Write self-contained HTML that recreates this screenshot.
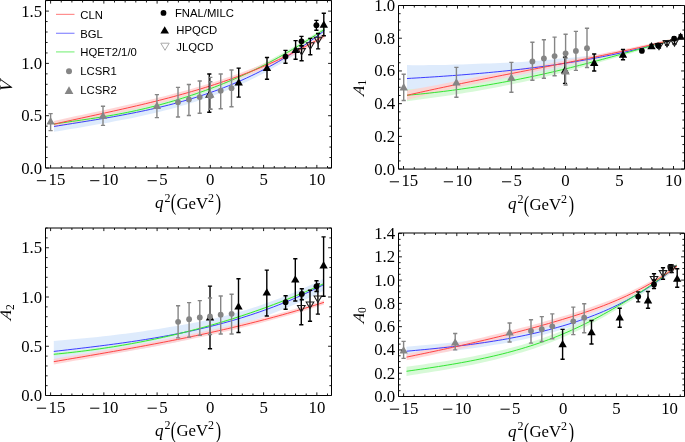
<!DOCTYPE html>
<html><head><meta charset="utf-8"><style>
html,body{margin:0;padding:0;background:#fff;}
svg{display:block;will-change:transform;}
.tl{font-family:"Liberation Serif",serif;font-size:16.8px;fill:#000;}
.xs{font-family:"Liberation Serif",serif;font-size:11px;fill:#000;}
.xl{font-family:"Liberation Serif",serif;font-size:16px;fill:#000;}
.yl{font-family:"Liberation Serif",serif;font-size:16px;fill:#000;}
.lg{font-family:"Liberation Sans",sans-serif;font-size:11.3px;fill:#000;}
</style></head><body>
<svg width="685" height="442" viewBox="0 0 685 442">
<rect width="685" height="442" fill="#fff"/>
<clipPath id="c1"><rect x="45.5" y="0.5" width="286.0" height="167.5"/></clipPath>
<g clip-path="url(#c1)">
<path d="M54.00,121.06 L59.52,120.21 L65.04,119.38 L70.56,118.54 L76.08,117.71 L81.60,116.87 L87.12,116.02 L92.64,115.16 L98.16,114.29 L103.68,113.40 L109.20,112.49 L114.72,111.56 L120.24,110.60 L125.77,109.62 L131.29,108.60 L136.81,107.54 L142.33,106.45 L147.85,105.31 L153.37,104.12 L158.89,102.89 L164.41,101.61 L169.93,100.27 L175.45,98.87 L180.97,97.41 L186.49,95.89 L192.01,94.29 L197.53,92.63 L203.05,90.89 L208.57,89.09 L214.09,87.20 L219.61,85.22 L225.13,83.16 L230.65,81.01 L236.17,78.77 L241.69,76.42 L247.21,73.98 L252.73,71.44 L258.26,68.78 L263.78,66.02 L269.30,63.15 L274.82,60.16 L280.34,57.04 L285.86,53.81 L291.38,50.45 L296.90,46.96 L302.42,43.34 L307.94,39.59 L313.46,35.69 L318.98,31.66 L324.50,27.47 L324.50,33.47 L318.98,37.75 L313.46,41.90 L307.94,45.90 L302.42,49.76 L296.90,53.49 L291.38,57.08 L285.86,60.55 L280.34,63.89 L274.82,67.11 L269.30,70.21 L263.78,73.19 L258.26,76.06 L252.73,78.82 L247.21,81.47 L241.69,84.02 L236.17,86.47 L230.65,88.82 L225.13,91.08 L219.61,93.24 L214.09,95.32 L208.57,97.32 L203.05,99.24 L197.53,101.07 L192.01,102.82 L186.49,104.51 L180.97,106.12 L175.45,107.67 L169.93,109.16 L164.41,110.59 L158.89,111.97 L153.37,113.29 L147.85,114.57 L142.33,115.79 L136.81,116.98 L131.29,118.13 L125.77,119.24 L120.24,120.32 L114.72,121.36 L109.20,122.39 L103.68,123.38 L98.16,124.36 L92.64,125.33 L87.12,126.27 L81.60,127.21 L76.08,128.14 L70.56,129.07 L65.04,130.00 L59.52,130.92 L54.00,131.86Z" fill="#d8e8fc" fill-opacity="0.85"/>
<path d="M54.00,121.47 L59.52,120.65 L65.04,119.86 L70.56,119.07 L76.08,118.28 L81.60,117.49 L87.12,116.70 L92.64,115.88 L98.16,115.04 L103.68,114.17 L109.20,113.27 L114.72,112.32 L120.24,111.33 L125.77,110.27 L131.29,109.16 L136.81,107.99 L142.33,106.75 L147.85,105.45 L153.37,104.09 L158.89,102.67 L164.41,101.18 L169.93,99.63 L175.45,98.02 L180.97,96.35 L186.49,94.61 L192.01,92.81 L197.53,90.95 L203.05,89.02 L208.57,87.03 L214.09,84.98 L219.61,82.86 L225.13,80.66 L230.65,78.40 L236.17,76.06 L241.69,73.64 L247.21,71.14 L252.73,68.56 L258.26,65.90 L263.78,63.15 L269.30,60.30 L274.82,57.37 L280.34,54.34 L285.86,51.22 L291.38,48.00 L296.90,44.71 L302.42,41.34 L307.94,37.90 L313.46,34.41 L318.98,30.86 L324.50,27.26 L324.50,31.26 L318.98,34.88 L313.46,38.45 L307.94,41.97 L302.42,45.43 L296.90,48.83 L291.38,52.15 L285.86,55.39 L280.34,58.53 L274.82,61.59 L269.30,64.55 L263.78,67.41 L258.26,70.19 L252.73,72.88 L247.21,75.48 L241.69,78.01 L236.17,80.45 L230.65,82.81 L225.13,85.10 L219.61,87.32 L214.09,89.47 L208.57,91.55 L203.05,93.56 L197.53,95.51 L192.01,97.40 L186.49,99.22 L180.97,100.98 L175.45,102.68 L169.93,104.32 L164.41,105.89 L158.89,107.40 L153.37,108.85 L147.85,110.23 L142.33,111.56 L136.81,112.82 L131.29,114.02 L125.77,115.16 L120.24,116.23 L114.72,117.25 L109.20,118.22 L103.68,119.15 L98.16,120.05 L92.64,120.91 L87.12,121.75 L81.60,122.57 L76.08,123.39 L70.56,124.19 L65.04,125.01 L59.52,125.83 L54.00,126.67Z" fill="#d0f8d0" fill-opacity="0.85"/>
<path d="M54.00,120.93 L59.52,119.71 L65.04,118.51 L70.56,117.31 L76.08,116.12 L81.60,114.93 L87.12,113.75 L92.64,112.56 L98.16,111.38 L103.68,110.18 L109.20,108.98 L114.72,107.78 L120.24,106.56 L125.77,105.32 L131.29,104.08 L136.81,102.81 L142.33,101.52 L147.85,100.21 L153.37,98.88 L158.89,97.52 L164.41,96.13 L169.93,94.71 L175.45,93.26 L180.97,91.77 L186.49,90.24 L192.01,88.67 L197.53,87.07 L203.05,85.41 L208.57,83.71 L214.09,81.96 L219.61,80.16 L225.13,78.31 L230.65,76.40 L236.17,74.44 L241.69,72.41 L247.21,70.32 L252.73,68.17 L258.26,65.95 L263.78,63.67 L269.30,61.31 L274.82,58.88 L280.34,56.37 L285.86,53.79 L291.38,51.12 L296.90,48.38 L302.42,45.55 L307.94,42.63 L313.46,39.63 L318.98,36.53 L324.50,33.34 L324.50,38.14 L318.98,41.36 L313.46,44.49 L307.94,47.53 L302.42,50.48 L296.90,53.34 L291.38,56.12 L285.86,58.81 L280.34,61.43 L274.82,63.97 L269.30,66.43 L263.78,68.82 L258.26,71.14 L252.73,73.39 L247.21,75.58 L241.69,77.70 L236.17,79.76 L230.65,81.76 L225.13,83.70 L219.61,85.58 L214.09,87.42 L208.57,89.20 L203.05,90.93 L197.53,92.62 L192.01,94.26 L186.49,95.86 L180.97,97.42 L175.45,98.94 L169.93,100.42 L164.41,101.88 L158.89,103.30 L153.37,104.69 L147.85,106.06 L142.33,107.40 L136.81,108.72 L131.29,110.02 L125.77,111.30 L120.24,112.56 L114.72,113.82 L109.20,115.06 L103.68,116.29 L98.16,117.51 L92.64,118.73 L87.12,119.95 L81.60,121.17 L76.08,122.39 L70.56,123.61 L65.04,124.84 L59.52,126.08 L54.00,127.33Z" fill="#ffd0d0" fill-opacity="0.85"/>
<polyline points="54.00,126.46 58.58,125.72 63.17,124.99 67.75,124.25 72.34,123.52 76.92,122.79 81.51,122.05 86.09,121.31 90.68,120.57 95.26,119.81 99.85,119.04 104.43,118.26 109.02,117.47 113.60,116.66 118.19,115.84 122.77,114.99 127.36,114.12 131.94,113.23 136.53,112.32 141.11,111.37 145.69,110.40 150.28,109.40 154.86,108.37 159.45,107.30 164.03,106.19 168.62,105.05 173.20,103.87 177.79,102.64 182.37,101.37 186.96,100.06 191.54,98.70 196.13,97.29 200.71,95.83 205.30,94.32 209.88,92.75 214.47,91.13 219.05,89.44 223.64,87.70 228.22,85.90 232.81,84.03 237.39,82.10 241.97,80.10 246.56,78.03 251.14,75.89 255.73,73.67 260.31,71.38 264.90,69.02 269.48,66.57 274.07,64.05 278.65,61.45 283.24,58.76 287.82,55.98 292.41,53.12 296.99,50.16 301.58,47.12 306.16,43.98 310.75,40.75 315.33,37.42 319.92,34.00 324.50,30.47" fill="none" stroke="#3c3cff" stroke-width="1.0"/>
<polyline points="54.00,124.07 58.58,123.38 63.17,122.70 67.75,122.04 72.34,121.37 76.92,120.71 81.51,120.05 86.09,119.37 90.68,118.69 95.26,117.99 99.85,117.28 104.43,116.54 109.02,115.78 113.60,114.99 118.19,114.16 122.77,113.30 127.36,112.40 131.94,111.45 136.53,110.46 141.11,109.43 145.69,108.36 150.28,107.24 154.86,106.09 159.45,104.88 164.03,103.64 168.62,102.35 173.20,101.02 177.79,99.65 182.37,98.23 186.96,96.77 191.54,95.26 196.13,93.71 200.71,92.12 205.30,90.49 209.88,88.81 214.47,87.08 219.05,85.31 223.64,83.49 228.22,81.62 232.81,79.70 237.39,77.73 241.97,75.70 246.56,73.62 251.14,71.48 255.73,69.28 260.31,67.02 264.90,64.71 269.48,62.33 274.07,59.88 278.65,57.38 283.24,54.80 287.82,52.16 292.41,49.46 296.99,46.71 301.58,43.91 306.16,41.05 310.75,38.16 315.33,35.23 319.92,32.26 324.50,29.26" fill="none" stroke="#33e633" stroke-width="1.0"/>
<polyline points="54.00,124.13 58.58,123.11 63.17,122.09 67.75,121.08 72.34,120.07 76.92,119.07 81.51,118.07 86.09,117.07 90.68,116.08 95.26,115.08 99.85,114.08 104.43,113.07 109.02,112.06 113.60,111.05 118.19,110.02 122.77,108.99 127.36,107.95 131.94,106.90 136.53,105.83 141.11,104.75 145.69,103.65 150.28,102.54 154.86,101.42 159.45,100.27 164.03,99.10 168.62,97.91 173.20,96.70 177.79,95.46 182.37,94.20 186.96,92.92 191.54,91.60 196.13,90.26 200.71,88.88 205.30,87.48 209.88,86.04 214.47,84.57 219.05,83.06 223.64,81.52 228.22,79.93 232.81,78.31 237.39,76.65 241.97,74.95 246.56,73.20 251.14,71.41 255.73,69.58 260.31,67.70 264.90,65.77 269.48,63.79 274.07,61.76 278.65,59.68 283.24,57.54 287.82,55.36 292.41,53.11 296.99,50.81 301.58,48.45 306.16,46.03 310.75,43.56 315.33,41.01 319.92,38.41 324.50,35.74" fill="none" stroke="#ff4444" stroke-width="1.0"/>
<path d="M50.60,113.60V130.60M48.50,113.60H52.70M48.50,130.60H52.70" stroke="#858585" stroke-width="1.4" fill="none"/><path d="M50.60,117.12L54.80,124.42L46.40,124.42Z" fill="#858585"/>
<path d="M103.00,106.30V125.40M100.90,106.30H105.10M100.90,125.40H105.10" stroke="#858585" stroke-width="1.4" fill="none"/><path d="M103.00,111.42L107.20,118.72L98.80,118.72Z" fill="#858585"/>
<path d="M156.90,94.60V117.60M154.80,94.60H159.00M154.80,117.60H159.00" stroke="#858585" stroke-width="1.4" fill="none"/><path d="M156.90,101.62L161.10,108.92L152.70,108.92Z" fill="#858585"/>
<path d="M178.00,87.40V117.00M175.90,87.40H180.10M175.90,117.00H180.10" stroke="#858585" stroke-width="1.4" fill="none"/><circle cx="178.00" cy="102.20" r="2.9" fill="#858585"/>
<path d="M188.90,84.50V115.50M186.80,84.50H191.00M186.80,115.50H191.00" stroke="#858585" stroke-width="1.4" fill="none"/><circle cx="188.90" cy="99.50" r="2.9" fill="#858585"/>
<path d="M199.70,81.00V113.30M197.60,81.00H201.80M197.60,113.30H201.80" stroke="#858585" stroke-width="1.4" fill="none"/><circle cx="199.70" cy="97.10" r="2.9" fill="#858585"/>
<path d="M209.30,74.00V112.30M207.20,74.00H211.40M207.20,112.30H211.40" stroke="#000" stroke-width="1.4" fill="none"/><path d="M209.30,90.42L213.50,97.72L205.10,97.72Z" fill="#000"/>
<path d="M210.30,77.40V109.20M208.20,77.40H212.40M208.20,109.20H212.40" stroke="#858585" stroke-width="1.4" fill="none"/><circle cx="210.30" cy="96.00" r="2.9" fill="#858585"/>
<path d="M210.30,81.80V109.20M208.20,81.80H212.40M208.20,109.20H212.40" stroke="#858585" stroke-width="1.4" fill="none"/><path d="M210.30,90.22L214.50,97.52L206.10,97.52Z" fill="#858585"/>
<path d="M220.70,74.00V108.80M218.60,74.00H222.80M218.60,108.80H222.80" stroke="#858585" stroke-width="1.4" fill="none"/><circle cx="220.70" cy="90.70" r="2.9" fill="#858585"/>
<path d="M231.50,70.00V106.80M229.40,70.00H233.60M229.40,106.80H233.60" stroke="#858585" stroke-width="1.4" fill="none"/><circle cx="231.50" cy="88.20" r="2.9" fill="#858585"/>
<path d="M238.70,68.10V97.10M236.60,68.10H240.80M236.60,97.10H240.80" stroke="#000" stroke-width="1.4" fill="none"/><path d="M238.70,78.22L242.90,85.52L234.50,85.52Z" fill="#000"/>
<path d="M267.00,57.50V79.30M264.90,57.50H269.10M264.90,79.30H269.10" stroke="#000" stroke-width="1.4" fill="none"/><path d="M267.00,63.82L271.20,71.12L262.80,71.12Z" fill="#000"/>
<path d="M285.50,50.40V63.20M283.40,50.40H287.60M283.40,63.20H287.60" stroke="#000" stroke-width="1.4" fill="none"/><circle cx="285.50" cy="56.60" r="2.9" fill="#000"/>
<path d="M295.60,40.60V59.30M293.50,40.60H297.70M293.50,59.30H297.70" stroke="#000" stroke-width="1.4" fill="none"/><path d="M295.60,45.82L299.80,53.12L291.40,53.12Z" fill="#000"/>
<path d="M301.60,46.00V60.80M299.50,46.00H303.70M299.50,60.80H303.70" stroke="#000" stroke-width="1.4" fill="none"/><path d="M301.60,55.04L305.40,48.64L297.80,48.64Z" fill="none" stroke="#1a1a1a" stroke-width="1.05"/>
<path d="M301.50,36.40V45.60M299.40,36.40H303.60M299.40,45.60H303.60" stroke="#000" stroke-width="1.4" fill="none"/><circle cx="301.50" cy="41.30" r="2.9" fill="#000"/>
<path d="M310.30,38.40V54.70M308.20,38.40H312.40M308.20,54.70H312.40" stroke="#000" stroke-width="1.4" fill="none"/><path d="M310.30,49.24L314.10,42.84L306.50,42.84Z" fill="none" stroke="#1a1a1a" stroke-width="1.05"/>
<path d="M318.10,33.50V48.90M316.00,33.50H320.20M316.00,48.90H320.20" stroke="#000" stroke-width="1.4" fill="none"/><path d="M318.10,43.64L321.90,37.24L314.30,37.24Z" fill="none" stroke="#1a1a1a" stroke-width="1.05"/>
<path d="M316.40,20.40V30.30M314.30,20.40H318.50M314.30,30.30H318.50" stroke="#000" stroke-width="1.4" fill="none"/><circle cx="316.40" cy="25.20" r="2.9" fill="#000"/>
<path d="M323.80,13.30V35.80M321.70,13.30H325.90M321.70,35.80H325.90" stroke="#000" stroke-width="1.4" fill="none"/><path d="M323.80,20.42L328.00,27.72L319.60,27.72Z" fill="#000"/>
</g>
<path d="M45.5,0.5H331.5V168.0H45.5Z" fill="none" stroke="#000" stroke-width="1"/>
<path d="M50.60,168.0v-3.1M50.60,0.5v3.1M61.25,168.0v-2.0M61.25,0.5v2.0M71.90,168.0v-2.0M71.90,0.5v2.0M82.55,168.0v-2.0M82.55,0.5v2.0M93.20,168.0v-2.0M93.20,0.5v2.0M103.85,168.0v-3.1M103.85,0.5v3.1M114.50,168.0v-2.0M114.50,0.5v2.0M125.15,168.0v-2.0M125.15,0.5v2.0M135.80,168.0v-2.0M135.80,0.5v2.0M146.45,168.0v-2.0M146.45,0.5v2.0M157.10,168.0v-3.1M157.10,0.5v3.1M167.75,168.0v-2.0M167.75,0.5v2.0M178.40,168.0v-2.0M178.40,0.5v2.0M189.05,168.0v-2.0M189.05,0.5v2.0M199.70,168.0v-2.0M199.70,0.5v2.0M210.35,168.0v-3.1M210.35,0.5v3.1M221.00,168.0v-2.0M221.00,0.5v2.0M231.65,168.0v-2.0M231.65,0.5v2.0M242.30,168.0v-2.0M242.30,0.5v2.0M252.95,168.0v-2.0M252.95,0.5v2.0M263.60,168.0v-3.1M263.60,0.5v3.1M274.25,168.0v-2.0M274.25,0.5v2.0M284.90,168.0v-2.0M284.90,0.5v2.0M295.55,168.0v-2.0M295.55,0.5v2.0M306.20,168.0v-2.0M306.20,0.5v2.0M316.85,168.0v-3.1M316.85,0.5v3.1M327.50,168.0v-2.0M327.50,0.5v2.0M45.5,168.00h3.4M331.5,168.00h-3.4M45.5,157.54h2.1M331.5,157.54h-2.1M45.5,147.08h2.1M331.5,147.08h-2.1M45.5,136.62h2.1M331.5,136.62h-2.1M45.5,126.16h2.1M331.5,126.16h-2.1M45.5,115.70h3.4M331.5,115.70h-3.4M45.5,105.24h2.1M331.5,105.24h-2.1M45.5,94.78h2.1M331.5,94.78h-2.1M45.5,84.32h2.1M331.5,84.32h-2.1M45.5,73.86h2.1M331.5,73.86h-2.1M45.5,63.40h3.4M331.5,63.40h-3.4M45.5,52.94h2.1M331.5,52.94h-2.1M45.5,42.48h2.1M331.5,42.48h-2.1M45.5,32.02h2.1M331.5,32.02h-2.1M45.5,21.56h2.1M331.5,21.56h-2.1M45.5,11.10h3.4M331.5,11.10h-3.4M45.5,0.64h2.1M331.5,0.64h-2.1" stroke="#111" stroke-width="0.95" fill="none"/>
<text x="42.2" y="173.5" class="tl" text-anchor="end">0.0</text>
<text x="42.2" y="121.2" class="tl" text-anchor="end">0.5</text>
<text x="42.2" y="68.9" class="tl" text-anchor="end">1.0</text>
<text x="42.2" y="16.6" class="tl" text-anchor="end">1.5</text>
<path d="M36.90,180.70h9.2" stroke="#000" stroke-width="1.0"/>
<text x="48.5" y="185.0" class="tl">15</text>
<path d="M90.15,180.70h9.2" stroke="#000" stroke-width="1.0"/>
<text x="101.7" y="185.0" class="tl">10</text>
<path d="M147.60,180.70h9.2" stroke="#000" stroke-width="1.0"/>
<text x="159.2" y="185.0" class="tl">5</text>
<text x="210.3" y="185.0" class="tl" text-anchor="middle">0</text>
<text x="263.6" y="185.0" class="tl" text-anchor="middle">5</text>
<text x="316.9" y="185.0" class="tl" text-anchor="middle">10</text>
<text x="154.9" y="208.1" class="xl" font-style="italic" style="font-size:17px">q</text>
<text x="164.6" y="201.8" class="xs" style="font-size:12px">2</text>
<text transform="translate(170.8,210.4) scale(1,1.4)" class="xl">(</text>
<text x="176.4" y="208.7" class="xl" style="font-size:16.8px">GeV</text>
<text x="208.1" y="201.8" class="xs" style="font-size:12px">2</text>
<text transform="translate(215.8,210.4) scale(1,1.4)" class="xl">)</text>
<text transform="translate(11.8,86.8) rotate(-90) skewX(-8)" class="yl" style="font-size:18px" text-anchor="middle"><tspan font-style="italic">V</tspan></text>
<clipPath id="c2"><rect x="398.5" y="5.5" width="286.0" height="163.6"/></clipPath>
<g clip-path="url(#c2)">
<path d="M407.00,65.12 L412.47,65.13 L417.94,65.14 L423.41,65.14 L428.88,65.12 L434.35,65.10 L439.82,65.07 L445.29,64.93 L450.76,64.77 L456.22,64.60 L461.69,64.41 L467.16,64.21 L472.63,63.99 L478.10,63.75 L483.57,63.56 L489.04,63.39 L494.51,63.20 L499.98,62.98 L505.45,62.75 L510.92,62.49 L516.39,62.22 L521.86,61.89 L527.33,61.50 L532.80,61.08 L538.27,60.64 L543.73,60.18 L549.20,59.68 L554.67,59.16 L560.14,58.62 L565.61,58.16 L571.08,57.68 L576.55,57.16 L582.02,56.61 L587.49,56.04 L592.96,55.43 L598.43,54.78 L603.90,53.93 L609.37,52.97 L614.84,51.98 L620.31,50.94 L625.78,49.88 L631.24,48.77 L636.71,47.63 L642.18,46.41 L647.65,45.11 L653.12,43.77 L658.59,42.39 L664.06,40.97 L669.53,39.50 L675.00,37.99 L675.00,40.39 L669.53,42.03 L664.06,43.62 L658.59,45.17 L653.12,46.67 L647.65,48.14 L642.18,49.56 L636.71,50.99 L631.24,52.41 L625.78,53.79 L620.31,55.13 L614.84,56.43 L609.37,57.70 L603.90,58.93 L598.43,60.20 L592.96,61.61 L587.49,62.99 L582.02,64.33 L576.55,65.64 L571.08,66.92 L565.61,68.17 L560.14,69.40 L554.67,70.47 L549.20,71.51 L543.73,72.52 L538.27,73.51 L532.80,74.47 L527.33,75.40 L521.86,76.32 L516.39,77.25 L510.92,78.18 L505.45,79.10 L499.98,79.99 L494.51,80.86 L489.04,81.71 L483.57,82.54 L478.10,83.32 L472.63,84.02 L467.16,84.70 L461.69,85.36 L456.22,86.02 L450.76,86.65 L445.29,87.28 L439.82,87.89 L434.35,88.59 L428.88,89.27 L423.41,89.95 L417.94,90.61 L412.47,91.27 L407.00,91.92Z" fill="#d8e8fc" fill-opacity="0.85"/>
<path d="M407.00,89.26 L412.47,88.98 L417.94,88.66 L423.41,88.31 L428.88,87.92 L434.35,87.51 L439.82,87.07 L445.29,86.48 L450.76,85.86 L456.22,85.21 L461.69,84.53 L467.16,83.81 L472.63,83.07 L478.10,82.30 L483.57,81.49 L489.04,80.66 L494.51,79.80 L499.98,78.91 L505.45,77.99 L510.92,77.04 L516.39,76.06 L521.86,75.05 L527.33,74.03 L532.80,72.97 L538.27,71.89 L543.73,70.78 L549.20,69.64 L554.67,68.47 L560.14,67.27 L565.61,66.05 L571.08,64.80 L576.55,63.52 L582.02,62.22 L587.49,60.90 L592.96,59.56 L598.43,58.20 L603.90,56.81 L609.37,55.39 L614.84,53.97 L620.31,52.53 L625.78,51.08 L631.24,49.63 L636.71,48.17 L642.18,46.70 L647.65,45.23 L653.12,43.76 L658.59,42.29 L664.06,40.82 L669.53,39.36 L675.00,37.90 L675.00,40.30 L669.53,41.91 L664.06,43.52 L658.59,45.13 L653.12,46.74 L647.65,48.36 L642.18,49.97 L636.71,51.59 L631.24,53.19 L625.78,54.80 L620.31,56.39 L614.84,57.97 L609.37,59.54 L603.90,61.10 L598.43,62.65 L592.96,64.20 L587.49,65.74 L582.02,67.25 L576.55,68.74 L571.08,70.21 L565.61,71.65 L560.14,73.07 L554.67,74.46 L549.20,75.82 L543.73,77.15 L538.27,78.45 L532.80,79.73 L527.33,80.97 L521.86,82.19 L516.39,83.36 L510.92,84.51 L505.45,85.62 L499.98,86.71 L494.51,87.77 L489.04,88.79 L483.57,89.79 L478.10,90.75 L472.63,91.69 L467.16,92.60 L461.69,93.47 L456.22,94.32 L450.76,95.14 L445.29,95.92 L439.82,96.68 L434.35,97.52 L428.88,98.33 L423.41,99.11 L417.94,99.86 L412.47,100.58 L407.00,101.26Z" fill="#d0f8d0" fill-opacity="0.85"/>
<path d="M407.00,90.59 L412.47,89.52 L417.94,88.48 L423.41,87.45 L428.88,86.43 L434.35,85.43 L439.82,84.44 L445.29,83.32 L450.76,82.22 L456.22,81.12 L461.69,80.03 L467.16,78.95 L472.63,77.88 L478.10,76.82 L483.57,75.76 L489.04,74.72 L494.51,73.67 L499.98,72.63 L505.45,71.60 L510.92,70.56 L516.39,69.53 L521.86,68.52 L527.33,67.52 L532.80,66.52 L538.27,65.52 L543.73,64.51 L549.20,63.51 L554.67,62.50 L560.14,61.49 L565.61,60.48 L571.08,59.46 L576.55,58.44 L582.02,57.41 L587.49,56.37 L592.96,55.32 L598.43,54.27 L603.90,53.19 L609.37,52.11 L614.84,51.01 L620.31,49.91 L625.78,48.79 L631.24,47.66 L636.71,46.51 L642.18,45.35 L647.65,44.17 L653.12,42.98 L658.59,41.77 L664.06,40.54 L669.53,39.30 L675.00,38.03 L675.00,40.43 L669.53,41.81 L664.06,43.18 L658.59,44.52 L653.12,45.85 L647.65,47.15 L642.18,48.45 L636.71,49.73 L631.24,50.99 L625.78,52.24 L620.31,53.47 L614.84,54.70 L609.37,55.91 L603.90,57.11 L598.43,58.31 L592.96,59.50 L587.49,60.68 L582.02,61.85 L576.55,63.02 L571.08,64.18 L565.61,65.34 L560.14,66.49 L554.67,67.64 L549.20,68.78 L543.73,69.92 L538.27,71.06 L532.80,72.20 L527.33,73.33 L521.86,74.47 L516.39,75.59 L510.92,76.70 L505.45,77.81 L499.98,78.93 L494.51,80.05 L489.04,81.18 L483.57,82.31 L478.10,83.45 L472.63,84.59 L467.16,85.75 L461.69,86.91 L456.22,88.08 L450.76,89.25 L445.29,90.44 L439.82,91.65 L434.35,93.01 L428.88,94.37 L423.41,95.75 L417.94,97.15 L412.47,98.56 L407.00,99.99Z" fill="#ffd0d0" fill-opacity="0.85"/>
<polyline points="407.00,78.52 411.54,78.25 416.08,77.99 420.63,77.71 425.17,77.43 429.71,77.15 434.25,76.85 438.80,76.55 443.34,76.24 447.88,75.92 452.42,75.59 456.97,75.25 461.51,74.90 466.05,74.54 470.59,74.17 475.14,73.79 479.68,73.40 484.22,72.99 488.76,72.57 493.31,72.14 497.85,71.70 502.39,71.24 506.93,70.77 511.47,70.28 516.02,69.77 520.56,69.26 525.10,68.72 529.64,68.17 534.19,67.60 538.73,67.02 543.27,66.41 547.81,65.79 552.36,65.15 556.90,64.49 561.44,63.81 565.98,63.11 570.53,62.39 575.07,61.65 579.61,60.89 584.15,60.10 588.69,59.30 593.24,58.47 597.78,57.62 602.32,56.74 606.86,55.84 611.41,54.92 615.95,53.97 620.49,53.00 625.03,52.00 629.58,50.97 634.12,49.92 638.66,48.84 643.20,47.74 647.75,46.60 652.29,45.44 656.83,44.25 661.37,43.03 665.92,41.78 670.46,40.50 675.00,39.19" fill="none" stroke="#3c3cff" stroke-width="1.0"/>
<polyline points="407.00,95.26 411.54,94.86 416.08,94.44 420.63,93.99 425.17,93.53 429.71,93.04 434.25,92.53 438.80,92.00 443.34,91.44 447.88,90.87 452.42,90.28 456.97,89.66 461.51,89.03 466.05,88.37 470.59,87.69 475.14,86.99 479.68,86.27 484.22,85.53 488.76,84.77 493.31,83.99 497.85,83.19 502.39,82.37 506.93,81.53 511.47,80.67 516.02,79.78 520.56,78.88 525.10,77.96 529.64,77.02 534.19,76.05 538.73,75.07 543.27,74.07 547.81,73.05 552.36,72.00 556.90,70.94 561.44,69.86 565.98,68.76 570.53,67.64 575.07,66.51 579.61,65.35 584.15,64.19 588.69,63.00 593.24,61.81 597.78,60.60 602.32,59.38 606.86,58.15 611.41,56.91 615.95,55.66 620.49,54.41 625.03,53.15 629.58,51.88 634.12,50.61 638.66,49.33 643.20,48.05 647.75,46.77 652.29,45.49 656.83,44.21 661.37,42.93 665.92,41.65 670.46,40.37 675.00,39.10" fill="none" stroke="#33e633" stroke-width="1.0"/>
<polyline points="407.00,95.29 411.54,94.25 416.08,93.23 420.63,92.22 425.17,91.21 429.71,90.22 434.25,89.24 438.80,88.26 443.34,87.30 447.88,86.34 452.42,85.39 456.97,84.44 461.51,83.51 466.05,82.58 470.59,81.65 475.14,80.73 479.68,79.82 484.22,78.91 488.76,78.00 493.31,77.10 497.85,76.20 502.39,75.31 506.93,74.41 511.47,73.52 516.02,72.63 520.56,71.75 525.10,70.86 529.64,69.97 534.19,69.08 538.73,68.20 543.27,67.31 547.81,66.42 552.36,65.53 556.90,64.63 561.44,63.74 565.98,62.84 570.53,61.93 575.07,61.03 579.61,60.12 584.15,59.20 588.69,58.28 593.24,57.35 597.78,56.42 602.32,55.48 606.86,54.53 611.41,53.58 615.95,52.62 620.49,51.65 625.03,50.67 629.58,49.69 634.12,48.69 638.66,47.68 643.20,46.67 647.75,45.64 652.29,44.60 656.83,43.55 661.37,42.49 665.92,41.42 670.46,40.33 675.00,39.23" fill="none" stroke="#ff4444" stroke-width="1.0"/>
<path d="M403.70,74.20V100.50M401.60,74.20H405.80M401.60,100.50H405.80" stroke="#858585" stroke-width="1.4" fill="none"/><path d="M403.70,83.12L407.90,90.42L399.50,90.42Z" fill="#858585"/>
<path d="M456.40,67.40V97.30M454.30,67.40H458.50M454.30,97.30H458.50" stroke="#858585" stroke-width="1.4" fill="none"/><path d="M456.40,78.22L460.60,85.52L452.20,85.52Z" fill="#858585"/>
<path d="M511.40,62.40V92.30M509.30,62.40H513.50M509.30,92.30H513.50" stroke="#858585" stroke-width="1.4" fill="none"/><path d="M511.40,73.42L515.60,80.72L507.20,80.72Z" fill="#858585"/>
<path d="M532.40,42.20V80.20M530.30,42.20H534.50M530.30,80.20H534.50" stroke="#858585" stroke-width="1.4" fill="none"/><circle cx="532.40" cy="61.50" r="2.9" fill="#858585"/>
<path d="M543.90,39.80V78.30M541.80,39.80H546.00M541.80,78.30H546.00" stroke="#858585" stroke-width="1.4" fill="none"/><circle cx="543.90" cy="58.50" r="2.9" fill="#858585"/>
<path d="M554.60,37.10V75.80M552.50,37.10H556.70M552.50,75.80H556.70" stroke="#858585" stroke-width="1.4" fill="none"/><circle cx="554.60" cy="56.10" r="2.9" fill="#858585"/>
<path d="M565.60,34.30V72.50M563.50,34.30H567.70M563.50,72.50H567.70" stroke="#858585" stroke-width="1.4" fill="none"/><circle cx="565.60" cy="53.30" r="2.9" fill="#858585"/>
<path d="M565.00,57.20V83.40M562.90,57.20H567.10M562.90,83.40H567.10" stroke="#000" stroke-width="1.4" fill="none"/><path d="M565.00,66.12L569.20,73.42L560.80,73.42Z" fill="#000"/>
<path d="M565.60,58.00V85.00M563.50,58.00H567.70M563.50,85.00H567.70" stroke="#858585" stroke-width="1.4" fill="none"/><path d="M565.60,67.12L569.80,74.42L561.40,74.42Z" fill="#858585"/>
<path d="M575.90,31.40V70.40M573.80,31.40H578.00M573.80,70.40H578.00" stroke="#858585" stroke-width="1.4" fill="none"/><circle cx="575.90" cy="50.90" r="2.9" fill="#858585"/>
<path d="M587.00,28.20V67.50M584.90,28.20H589.10M584.90,67.50H589.10" stroke="#858585" stroke-width="1.4" fill="none"/><circle cx="587.00" cy="48.20" r="2.9" fill="#858585"/>
<path d="M594.20,54.00V71.00M592.10,54.00H596.30M592.10,71.00H596.30" stroke="#000" stroke-width="1.4" fill="none"/><path d="M594.20,58.62L598.40,65.92L590.00,65.92Z" fill="#000"/>
<path d="M623.00,49.50V59.70M620.90,49.50H625.10M620.90,59.70H625.10" stroke="#000" stroke-width="1.4" fill="none"/><path d="M623.00,50.42L627.20,57.72L618.80,57.72Z" fill="#000"/>
<path d="M641.90,49.00V52.60M639.80,49.00H644.00M639.80,52.60H644.00" stroke="#000" stroke-width="1.4" fill="none"/><circle cx="641.90" cy="50.80" r="2.9" fill="#000"/>
<path d="M651.50,44.50V48.00M649.40,44.50H653.60M649.40,48.00H653.60" stroke="#000" stroke-width="1.4" fill="none"/><path d="M651.50,41.92L655.70,49.22L647.30,49.22Z" fill="#000"/>
<path d="M659.00,44.00V48.00M656.90,44.00H661.10M656.90,48.00H661.10" stroke="#000" stroke-width="1.4" fill="none"/><path d="M659.00,49.84L662.80,43.44L655.20,43.44Z" fill="none" stroke="#1a1a1a" stroke-width="1.05"/>
<path d="M658.10,43.60V47.20M656.00,43.60H660.20M656.00,47.20H660.20" stroke="#000" stroke-width="1.4" fill="none"/><circle cx="658.10" cy="45.40" r="2.9" fill="#000"/>
<path d="M667.00,41.50V45.00M664.90,41.50H669.10M664.90,45.00H669.10" stroke="#000" stroke-width="1.4" fill="none"/><path d="M667.00,47.04L670.80,40.64L663.20,40.64Z" fill="none" stroke="#1a1a1a" stroke-width="1.05"/>
<path d="M674.50,40.50V44.00M672.40,40.50H676.60M672.40,44.00H676.60" stroke="#000" stroke-width="1.4" fill="none"/><path d="M674.50,46.14L678.30,39.74L670.70,39.74Z" fill="none" stroke="#1a1a1a" stroke-width="1.05"/>
<path d="M674.10,37.00V40.20M672.00,37.00H676.20M672.00,40.20H676.20" stroke="#000" stroke-width="1.4" fill="none"/><circle cx="674.10" cy="38.60" r="2.9" fill="#000"/>
<path d="M680.60,35.00V38.60M678.50,35.00H682.70M678.50,38.60H682.70" stroke="#000" stroke-width="1.4" fill="none"/><path d="M680.60,32.42L684.80,39.72L676.40,39.72Z" fill="#000"/>
</g>
<path d="M398.5,5.5H684.5V169.1H398.5Z" fill="none" stroke="#000" stroke-width="1"/>
<path d="M403.50,169.1v-3.1M403.50,5.5v3.1M414.30,169.1v-2.0M414.30,5.5v2.0M425.10,169.1v-2.0M425.10,5.5v2.0M435.90,169.1v-2.0M435.90,5.5v2.0M446.70,169.1v-2.0M446.70,5.5v2.0M457.50,169.1v-3.1M457.50,5.5v3.1M468.30,169.1v-2.0M468.30,5.5v2.0M479.10,169.1v-2.0M479.10,5.5v2.0M489.90,169.1v-2.0M489.90,5.5v2.0M500.70,169.1v-2.0M500.70,5.5v2.0M511.50,169.1v-3.1M511.50,5.5v3.1M522.30,169.1v-2.0M522.30,5.5v2.0M533.10,169.1v-2.0M533.10,5.5v2.0M543.90,169.1v-2.0M543.90,5.5v2.0M554.70,169.1v-2.0M554.70,5.5v2.0M565.50,169.1v-3.1M565.50,5.5v3.1M576.30,169.1v-2.0M576.30,5.5v2.0M587.10,169.1v-2.0M587.10,5.5v2.0M597.90,169.1v-2.0M597.90,5.5v2.0M608.70,169.1v-2.0M608.70,5.5v2.0M619.50,169.1v-3.1M619.50,5.5v3.1M630.30,169.1v-2.0M630.30,5.5v2.0M641.10,169.1v-2.0M641.10,5.5v2.0M651.90,169.1v-2.0M651.90,5.5v2.0M662.70,169.1v-2.0M662.70,5.5v2.0M673.50,169.1v-3.1M673.50,5.5v3.1M398.5,169.10h3.4M684.5,169.10h-3.4M398.5,160.92h2.1M684.5,160.92h-2.1M398.5,152.74h2.1M684.5,152.74h-2.1M398.5,144.56h2.1M684.5,144.56h-2.1M398.5,136.38h3.4M684.5,136.38h-3.4M398.5,128.20h2.1M684.5,128.20h-2.1M398.5,120.02h2.1M684.5,120.02h-2.1M398.5,111.84h2.1M684.5,111.84h-2.1M398.5,103.66h3.4M684.5,103.66h-3.4M398.5,95.48h2.1M684.5,95.48h-2.1M398.5,87.30h2.1M684.5,87.30h-2.1M398.5,79.12h2.1M684.5,79.12h-2.1M398.5,70.94h3.4M684.5,70.94h-3.4M398.5,62.76h2.1M684.5,62.76h-2.1M398.5,54.58h2.1M684.5,54.58h-2.1M398.5,46.40h2.1M684.5,46.40h-2.1M398.5,38.22h3.4M684.5,38.22h-3.4M398.5,30.04h2.1M684.5,30.04h-2.1M398.5,21.86h2.1M684.5,21.86h-2.1M398.5,13.68h2.1M684.5,13.68h-2.1M398.5,5.50h3.4M684.5,5.50h-3.4" stroke="#111" stroke-width="0.95" fill="none"/>
<text x="395.2" y="174.6" class="tl" text-anchor="end">0.0</text>
<text x="395.2" y="141.9" class="tl" text-anchor="end">0.2</text>
<text x="395.2" y="109.2" class="tl" text-anchor="end">0.4</text>
<text x="395.2" y="76.4" class="tl" text-anchor="end">0.6</text>
<text x="395.2" y="43.7" class="tl" text-anchor="end">0.8</text>
<text x="395.2" y="11.0" class="tl" text-anchor="end">1.0</text>
<path d="M389.80,181.80h9.2" stroke="#000" stroke-width="1.0"/>
<text x="401.4" y="186.1" class="tl">15</text>
<path d="M443.80,181.80h9.2" stroke="#000" stroke-width="1.0"/>
<text x="455.4" y="186.1" class="tl">10</text>
<path d="M502.00,181.80h9.2" stroke="#000" stroke-width="1.0"/>
<text x="513.6" y="186.1" class="tl">5</text>
<text x="565.5" y="186.1" class="tl" text-anchor="middle">0</text>
<text x="619.5" y="186.1" class="tl" text-anchor="middle">5</text>
<text x="673.5" y="186.1" class="tl" text-anchor="middle">10</text>
<text x="507.9" y="209.2" class="xl" font-style="italic" style="font-size:17px">q</text>
<text x="517.6" y="202.9" class="xs" style="font-size:12px">2</text>
<text transform="translate(523.8,211.5) scale(1,1.4)" class="xl">(</text>
<text x="529.4" y="209.8" class="xl" style="font-size:16.8px">GeV</text>
<text x="561.1" y="202.9" class="xs" style="font-size:12px">2</text>
<text transform="translate(568.8,211.5) scale(1,1.4)" class="xl">)</text>
<text transform="translate(363.6,96.2) rotate(-90) skewX(-12)" class="yl"><tspan font-style="italic">A</tspan></text>
<text transform="translate(366.20000000000005,85.6) rotate(-90)" class="yl" style="font-size:11.5px">1</text>
<clipPath id="c3"><rect x="45.5" y="228.0" width="286.0" height="167.5"/></clipPath>
<g clip-path="url(#c3)">
<path d="M53.80,341.03 L59.31,340.55 L64.83,340.06 L70.34,339.58 L75.86,339.08 L81.37,338.58 L86.89,338.07 L92.40,337.52 L97.91,336.92 L103.43,336.30 L108.94,335.67 L114.46,335.02 L119.97,334.35 L125.49,333.65 L131.00,332.93 L136.51,332.19 L142.03,331.42 L147.54,330.62 L153.06,329.79 L158.57,328.92 L164.09,328.02 L169.60,327.09 L175.11,326.19 L180.63,325.26 L186.14,324.28 L191.66,323.27 L197.17,322.20 L202.69,321.09 L208.20,319.93 L213.71,318.66 L219.23,317.32 L224.74,315.92 L230.26,314.46 L235.77,312.94 L241.29,311.36 L246.80,309.72 L252.31,308.00 L257.83,306.19 L263.34,304.31 L268.86,302.36 L274.37,300.34 L279.89,298.25 L285.40,296.08 L290.91,293.84 L296.43,291.51 L301.94,289.10 L307.46,286.60 L312.97,284.02 L318.49,281.36 L324.00,278.61 L324.00,290.41 L318.49,293.22 L312.97,295.95 L307.46,298.60 L301.94,301.16 L296.43,303.63 L290.91,306.03 L285.40,308.35 L279.89,310.60 L274.37,312.78 L268.86,314.88 L263.34,316.91 L257.83,318.87 L252.31,320.77 L246.80,322.62 L241.29,324.42 L235.77,326.17 L230.26,327.85 L224.74,329.47 L219.23,331.04 L213.71,332.55 L208.20,334.04 L202.69,335.53 L197.17,336.97 L191.66,338.37 L186.14,339.72 L180.63,341.02 L175.11,342.28 L169.60,343.50 L164.09,344.60 L158.57,345.66 L153.06,346.69 L147.54,347.69 L142.03,348.66 L136.51,349.59 L131.00,350.50 L125.49,351.39 L119.97,352.25 L114.46,353.08 L108.94,353.90 L103.43,354.70 L97.91,355.48 L92.40,356.25 L86.89,357.05 L81.37,357.86 L75.86,358.66 L70.34,359.46 L64.83,360.25 L59.31,361.04 L53.80,361.83Z" fill="#d8e8fc" fill-opacity="0.85"/>
<path d="M53.80,352.89 L59.31,352.36 L64.83,351.80 L70.34,351.20 L75.86,350.57 L81.37,349.92 L86.89,349.22 L92.40,348.50 L97.91,347.74 L103.43,346.95 L108.94,346.12 L114.46,345.25 L119.97,344.36 L125.49,343.42 L131.00,342.45 L136.51,341.45 L142.03,340.40 L147.54,339.32 L153.06,338.20 L158.57,337.05 L164.09,335.85 L169.60,334.62 L175.11,333.34 L180.63,332.03 L186.14,330.68 L191.66,329.28 L197.17,327.85 L202.69,326.37 L208.20,324.85 L213.71,323.29 L219.23,321.69 L224.74,320.04 L230.26,318.35 L235.77,316.62 L241.29,314.84 L246.80,313.02 L252.31,311.15 L257.83,309.24 L263.34,307.28 L268.86,305.28 L274.37,303.23 L279.89,301.13 L285.40,298.98 L290.91,296.79 L296.43,294.55 L301.94,292.25 L307.46,289.91 L312.97,287.52 L318.49,285.09 L324.00,282.60 L324.00,284.60 L318.49,287.10 L312.97,289.56 L307.46,291.96 L301.94,294.32 L296.43,296.63 L290.91,298.89 L285.40,301.10 L279.89,303.26 L274.37,305.37 L268.86,307.44 L263.34,309.46 L257.83,311.44 L252.31,313.37 L246.80,315.25 L241.29,317.09 L235.77,318.88 L230.26,320.63 L224.74,322.34 L219.23,324.00 L213.71,325.62 L208.20,327.20 L202.69,328.73 L197.17,330.22 L191.66,331.68 L186.14,333.09 L180.63,334.46 L175.11,335.79 L169.60,337.08 L164.09,338.33 L158.57,339.54 L153.06,340.71 L147.54,341.85 L142.03,342.94 L136.51,344.00 L131.00,345.02 L125.49,346.01 L119.97,346.96 L114.46,347.88 L108.94,348.75 L103.43,349.60 L97.91,350.41 L92.40,351.18 L86.89,351.93 L81.37,352.63 L75.86,353.31 L70.34,353.95 L64.83,354.56 L59.31,355.14 L53.80,355.69Z" fill="#d0f8d0" fill-opacity="0.85"/>
<path d="M53.80,358.98 L59.31,358.05 L64.83,357.12 L70.34,356.20 L75.86,355.26 L81.37,354.33 L86.89,353.40 L92.40,352.46 L97.91,351.51 L103.43,350.56 L108.94,349.61 L114.46,348.65 L119.97,347.68 L125.49,346.71 L131.00,345.72 L136.51,344.73 L142.03,343.72 L147.54,342.71 L153.06,341.68 L158.57,340.65 L164.09,339.59 L169.60,338.53 L175.11,337.45 L180.63,336.35 L186.14,335.24 L191.66,334.11 L197.17,332.97 L202.69,331.81 L208.20,330.62 L213.71,329.42 L219.23,328.20 L224.74,326.96 L230.26,325.69 L235.77,324.40 L241.29,323.09 L246.80,321.76 L252.31,320.40 L257.83,319.01 L263.34,317.60 L268.86,316.16 L274.37,314.69 L279.89,313.20 L285.40,311.67 L290.91,310.12 L296.43,308.54 L301.94,306.92 L307.46,305.27 L312.97,303.59 L318.49,301.88 L324.00,300.13 L324.00,304.53 L318.49,306.30 L312.97,308.03 L307.46,309.73 L301.94,311.40 L296.43,313.04 L290.91,314.64 L285.40,316.22 L279.89,317.76 L274.37,319.28 L268.86,320.76 L263.34,322.22 L257.83,323.66 L252.31,325.06 L246.80,326.44 L241.29,327.80 L235.77,329.13 L230.26,330.44 L224.74,331.72 L219.23,332.99 L213.71,334.23 L208.20,335.45 L202.69,336.65 L197.17,337.84 L191.66,339.00 L186.14,340.15 L180.63,341.28 L175.11,342.40 L169.60,343.50 L164.09,344.59 L158.57,345.66 L153.06,346.72 L147.54,347.76 L142.03,348.80 L136.51,349.82 L131.00,350.84 L125.49,351.84 L119.97,352.84 L114.46,353.83 L108.94,354.81 L103.43,355.78 L97.91,356.75 L92.40,357.71 L86.89,358.67 L81.37,359.63 L75.86,360.58 L70.34,361.53 L64.83,362.48 L59.31,363.43 L53.80,364.38Z" fill="#ffd0d0" fill-opacity="0.85"/>
<polyline points="53.80,351.43 58.38,350.90 62.96,350.37 67.54,349.84 72.12,349.31 76.70,348.77 81.28,348.23 85.86,347.68 90.44,347.13 95.02,346.56 99.60,345.99 104.18,345.41 108.76,344.81 113.34,344.20 117.92,343.58 122.49,342.94 127.07,342.29 131.65,341.62 136.23,340.93 140.81,340.23 145.39,339.50 149.97,338.76 154.55,337.99 159.13,337.20 163.71,336.38 168.29,335.54 172.87,334.67 177.45,333.78 182.03,332.85 186.61,331.90 191.19,330.92 195.77,329.90 200.35,328.86 204.93,327.78 209.51,326.66 214.09,325.51 218.67,324.33 223.25,323.10 227.83,321.84 232.41,320.54 236.99,319.19 241.57,317.81 246.15,316.38 250.73,314.90 255.31,313.39 259.88,311.82 264.46,310.21 269.04,308.55 273.62,306.85 278.20,305.09 282.78,303.28 287.36,301.41 291.94,299.50 296.52,297.53 301.10,295.50 305.68,293.42 310.26,291.28 314.84,289.08 319.42,286.83 324.00,284.51" fill="none" stroke="#3c3cff" stroke-width="1.0"/>
<polyline points="53.80,354.29 58.38,353.84 62.96,353.38 67.54,352.89 72.12,352.38 76.70,351.84 81.28,351.29 85.86,350.71 90.44,350.11 95.02,349.48 99.60,348.83 104.18,348.16 108.76,347.46 113.34,346.75 117.92,346.00 122.49,345.23 127.07,344.44 131.65,343.62 136.23,342.78 140.81,341.91 145.39,341.01 149.97,340.09 154.55,339.15 159.13,338.17 163.71,337.17 168.29,336.15 172.87,335.09 177.45,334.01 182.03,332.90 186.61,331.76 191.19,330.60 195.77,329.41 200.35,328.19 204.93,326.94 209.51,325.66 214.09,324.35 218.67,323.01 223.25,321.64 227.83,320.25 232.41,318.82 236.99,317.36 241.57,315.87 246.15,314.36 250.73,312.81 255.31,311.22 259.88,309.61 264.46,307.97 269.04,306.29 273.62,304.58 278.20,302.84 282.78,301.07 287.36,299.26 291.94,297.42 296.52,295.55 301.10,293.64 305.68,291.70 310.26,289.73 314.84,287.72 319.42,285.67 324.00,283.60" fill="none" stroke="#33e633" stroke-width="1.0"/>
<polyline points="53.80,361.68 58.38,360.90 62.96,360.12 67.54,359.34 72.12,358.56 76.70,357.78 81.28,357.00 85.86,356.21 90.44,355.42 95.02,354.63 99.60,353.84 104.18,353.04 108.76,352.24 113.34,351.44 117.92,350.63 122.49,349.81 127.07,348.99 131.65,348.16 136.23,347.33 140.81,346.49 145.39,345.64 149.97,344.78 154.55,343.92 159.13,343.04 163.71,342.16 168.29,341.27 172.87,340.37 177.45,339.46 182.03,338.54 186.61,337.60 191.19,336.66 195.77,335.70 200.35,334.73 204.93,333.75 209.51,332.75 214.09,331.74 218.67,330.72 223.25,329.68 227.83,328.63 232.41,327.56 236.99,326.48 241.57,325.38 246.15,324.26 250.73,323.13 255.31,321.97 259.88,320.81 264.46,319.62 269.04,318.41 273.62,317.19 278.20,315.94 282.78,314.68 287.36,313.39 291.94,312.09 296.52,310.76 301.10,309.41 305.68,308.04 310.26,306.65 314.84,305.23 319.42,303.79 324.00,302.33" fill="none" stroke="#ff4444" stroke-width="1.0"/>
<path d="M178.10,305.70V337.90M176.00,305.70H180.20M176.00,337.90H180.20" stroke="#858585" stroke-width="1.4" fill="none"/><circle cx="178.10" cy="321.80" r="2.9" fill="#858585"/>
<path d="M189.10,302.60V337.10M187.00,302.60H191.20M187.00,337.10H191.20" stroke="#858585" stroke-width="1.4" fill="none"/><circle cx="189.10" cy="319.20" r="2.9" fill="#858585"/>
<path d="M199.80,300.60V335.40M197.70,300.60H201.90M197.70,335.40H201.90" stroke="#858585" stroke-width="1.4" fill="none"/><circle cx="199.80" cy="317.40" r="2.9" fill="#858585"/>
<path d="M210.00,286.10V348.70M207.90,286.10H212.10M207.90,348.70H212.10" stroke="#000" stroke-width="1.4" fill="none"/><path d="M210.00,313.12L214.20,320.42L205.80,320.42Z" fill="#000"/>
<path d="M210.00,298.00V334.50M207.90,298.00H212.10M207.90,334.50H212.10" stroke="#858585" stroke-width="1.4" fill="none"/><circle cx="210.00" cy="316.40" r="2.9" fill="#858585"/>
<path d="M220.70,296.00V334.00M218.60,296.00H222.80M218.60,334.00H222.80" stroke="#858585" stroke-width="1.4" fill="none"/><circle cx="220.70" cy="314.70" r="2.9" fill="#858585"/>
<path d="M231.60,294.30V334.00M229.50,294.30H233.70M229.50,334.00H233.70" stroke="#858585" stroke-width="1.4" fill="none"/><circle cx="231.60" cy="313.80" r="2.9" fill="#858585"/>
<path d="M238.50,278.80V332.50M236.40,278.80H240.60M236.40,332.50H240.60" stroke="#000" stroke-width="1.4" fill="none"/><path d="M238.50,302.22L242.70,309.52L234.30,309.52Z" fill="#000"/>
<path d="M266.80,270.10V316.00M264.70,270.10H268.90M264.70,316.00H268.90" stroke="#000" stroke-width="1.4" fill="none"/><path d="M266.80,288.22L271.00,295.52L262.60,295.52Z" fill="#000"/>
<path d="M285.60,295.80V309.30M283.50,295.80H287.70M283.50,309.30H287.70" stroke="#000" stroke-width="1.4" fill="none"/><circle cx="285.60" cy="302.20" r="2.9" fill="#000"/>
<path d="M295.30,258.70V301.00M293.20,258.70H297.40M293.20,301.00H297.40" stroke="#000" stroke-width="1.4" fill="none"/><path d="M295.30,275.22L299.50,282.52L291.10,282.52Z" fill="#000"/>
<path d="M301.30,295.00V324.80M299.20,295.00H303.40M299.20,324.80H303.40" stroke="#000" stroke-width="1.4" fill="none"/><path d="M301.30,311.94L305.10,305.54L297.50,305.54Z" fill="none" stroke="#1a1a1a" stroke-width="1.05"/>
<path d="M301.80,288.70V299.80M299.70,288.70H303.90M299.70,299.80H303.90" stroke="#000" stroke-width="1.4" fill="none"/><circle cx="301.80" cy="293.90" r="2.9" fill="#000"/>
<path d="M310.00,290.30V321.20M307.90,290.30H312.10M307.90,321.20H312.10" stroke="#000" stroke-width="1.4" fill="none"/><path d="M310.00,308.44L313.80,302.04L306.20,302.04Z" fill="none" stroke="#1a1a1a" stroke-width="1.05"/>
<path d="M317.90,283.90V314.10M315.80,283.90H320.00M315.80,314.10H320.00" stroke="#000" stroke-width="1.4" fill="none"/><path d="M317.90,302.44L321.70,296.04L314.10,296.04Z" fill="none" stroke="#1a1a1a" stroke-width="1.05"/>
<path d="M316.50,280.80V291.50M314.40,280.80H318.60M314.40,291.50H318.60" stroke="#000" stroke-width="1.4" fill="none"/><circle cx="316.50" cy="286.30" r="2.9" fill="#000"/>
<path d="M323.60,236.90V296.30M321.50,236.90H325.70M321.50,296.30H325.70" stroke="#000" stroke-width="1.4" fill="none"/><path d="M323.60,261.12L327.80,268.42L319.40,268.42Z" fill="#000"/>
</g>
<path d="M45.5,228.0H331.5V395.5H45.5Z" fill="none" stroke="#000" stroke-width="1"/>
<path d="M50.60,395.5v-3.1M50.60,228.0v3.1M61.25,395.5v-2.0M61.25,228.0v2.0M71.90,395.5v-2.0M71.90,228.0v2.0M82.55,395.5v-2.0M82.55,228.0v2.0M93.20,395.5v-2.0M93.20,228.0v2.0M103.85,395.5v-3.1M103.85,228.0v3.1M114.50,395.5v-2.0M114.50,228.0v2.0M125.15,395.5v-2.0M125.15,228.0v2.0M135.80,395.5v-2.0M135.80,228.0v2.0M146.45,395.5v-2.0M146.45,228.0v2.0M157.10,395.5v-3.1M157.10,228.0v3.1M167.75,395.5v-2.0M167.75,228.0v2.0M178.40,395.5v-2.0M178.40,228.0v2.0M189.05,395.5v-2.0M189.05,228.0v2.0M199.70,395.5v-2.0M199.70,228.0v2.0M210.35,395.5v-3.1M210.35,228.0v3.1M221.00,395.5v-2.0M221.00,228.0v2.0M231.65,395.5v-2.0M231.65,228.0v2.0M242.30,395.5v-2.0M242.30,228.0v2.0M252.95,395.5v-2.0M252.95,228.0v2.0M263.60,395.5v-3.1M263.60,228.0v3.1M274.25,395.5v-2.0M274.25,228.0v2.0M284.90,395.5v-2.0M284.90,228.0v2.0M295.55,395.5v-2.0M295.55,228.0v2.0M306.20,395.5v-2.0M306.20,228.0v2.0M316.85,395.5v-3.1M316.85,228.0v3.1M327.50,395.5v-2.0M327.50,228.0v2.0M45.5,395.50h3.4M331.5,395.50h-3.4M45.5,385.65h2.1M331.5,385.65h-2.1M45.5,375.80h2.1M331.5,375.80h-2.1M45.5,365.95h2.1M331.5,365.95h-2.1M45.5,356.10h2.1M331.5,356.10h-2.1M45.5,346.25h3.4M331.5,346.25h-3.4M45.5,336.40h2.1M331.5,336.40h-2.1M45.5,326.55h2.1M331.5,326.55h-2.1M45.5,316.70h2.1M331.5,316.70h-2.1M45.5,306.85h2.1M331.5,306.85h-2.1M45.5,297.00h3.4M331.5,297.00h-3.4M45.5,287.15h2.1M331.5,287.15h-2.1M45.5,277.30h2.1M331.5,277.30h-2.1M45.5,267.45h2.1M331.5,267.45h-2.1M45.5,257.60h2.1M331.5,257.60h-2.1M45.5,247.75h3.4M331.5,247.75h-3.4M45.5,237.90h2.1M331.5,237.90h-2.1M45.5,228.05h2.1M331.5,228.05h-2.1" stroke="#111" stroke-width="0.95" fill="none"/>
<text x="42.2" y="401.0" class="tl" text-anchor="end">0.0</text>
<text x="42.2" y="351.8" class="tl" text-anchor="end">0.5</text>
<text x="42.2" y="302.5" class="tl" text-anchor="end">1.0</text>
<text x="42.2" y="253.2" class="tl" text-anchor="end">1.5</text>
<path d="M36.90,408.20h9.2" stroke="#000" stroke-width="1.0"/>
<text x="48.5" y="412.5" class="tl">15</text>
<path d="M90.15,408.20h9.2" stroke="#000" stroke-width="1.0"/>
<text x="101.7" y="412.5" class="tl">10</text>
<path d="M147.60,408.20h9.2" stroke="#000" stroke-width="1.0"/>
<text x="159.2" y="412.5" class="tl">5</text>
<text x="210.3" y="412.5" class="tl" text-anchor="middle">0</text>
<text x="263.6" y="412.5" class="tl" text-anchor="middle">5</text>
<text x="316.9" y="412.5" class="tl" text-anchor="middle">10</text>
<text x="154.9" y="435.6" class="xl" font-style="italic" style="font-size:17px">q</text>
<text x="164.6" y="429.3" class="xs" style="font-size:12px">2</text>
<text transform="translate(170.8,437.9) scale(1,1.4)" class="xl">(</text>
<text x="176.4" y="436.2" class="xl" style="font-size:16.8px">GeV</text>
<text x="208.1" y="429.3" class="xs" style="font-size:12px">2</text>
<text transform="translate(215.8,437.9) scale(1,1.4)" class="xl">)</text>
<text transform="translate(10.9,320.6) rotate(-90) skewX(-12)" class="yl"><tspan font-style="italic">A</tspan></text>
<text transform="translate(13.5,310.1) rotate(-90)" class="yl" style="font-size:11.5px">2</text>
<clipPath id="c4"><rect x="398.5" y="233.0" width="286.0" height="163.5"/></clipPath>
<g clip-path="url(#c4)">
<path d="M406.50,346.72 L412.02,346.25 L417.54,345.78 L423.06,345.30 L428.58,344.80 L434.10,344.30 L439.62,343.77 L445.14,343.22 L450.66,342.65 L456.18,342.06 L461.70,341.44 L467.22,340.79 L472.74,340.11 L478.27,339.39 L483.79,338.64 L489.31,337.85 L494.83,337.02 L500.35,336.14 L505.87,335.22 L511.39,334.24 L516.91,333.22 L522.43,332.14 L527.95,331.01 L533.47,329.81 L538.99,328.56 L544.51,327.24 L550.03,325.86 L555.55,324.41 L561.07,322.89 L566.59,321.33 L572.11,319.69 L577.63,317.96 L583.15,316.13 L588.67,314.21 L594.19,312.18 L599.71,310.03 L605.23,307.77 L610.76,305.37 L616.28,302.84 L621.80,300.18 L627.32,297.36 L632.84,294.39 L638.36,291.26 L643.88,287.96 L649.40,284.48 L654.92,280.79 L660.44,276.88 L665.96,272.71 L671.48,268.27 L677.00,263.54 L677.00,267.54 L671.48,272.41 L665.96,276.99 L660.44,281.30 L654.92,285.36 L649.40,289.19 L643.88,292.81 L638.36,296.25 L632.84,299.52 L627.32,302.64 L621.80,305.59 L616.28,308.40 L610.76,311.07 L605.23,313.61 L599.71,316.01 L594.19,318.30 L588.67,320.47 L583.15,322.54 L577.63,324.51 L572.11,326.38 L566.59,328.16 L561.07,329.86 L555.55,331.47 L550.03,332.99 L544.51,334.44 L538.99,335.83 L533.47,337.16 L527.95,338.42 L522.43,339.63 L516.91,340.78 L511.39,341.88 L505.87,342.92 L500.35,343.92 L494.83,344.87 L489.31,345.77 L483.79,346.64 L478.27,347.46 L472.74,348.25 L467.22,349.00 L461.70,349.72 L456.18,350.41 L450.66,351.08 L445.14,351.72 L439.62,352.34 L434.10,352.94 L428.58,353.52 L423.06,354.08 L417.54,354.64 L412.02,355.18 L406.50,355.72Z" fill="#d8e8fc" fill-opacity="0.85"/>
<path d="M406.50,366.68 L412.02,365.92 L417.54,365.16 L423.06,364.39 L428.58,363.61 L434.10,362.81 L439.62,361.98 L445.14,361.13 L450.66,360.26 L456.18,359.35 L461.70,358.40 L467.22,357.42 L472.74,356.39 L478.27,355.32 L483.79,354.20 L489.31,353.02 L494.83,351.79 L500.35,350.50 L505.87,349.14 L511.39,347.72 L516.91,346.22 L522.43,344.65 L527.95,343.00 L533.47,341.27 L538.99,339.45 L544.51,337.54 L550.03,335.54 L555.55,333.45 L561.07,331.26 L566.59,328.99 L572.11,326.62 L577.63,324.15 L583.15,321.59 L588.67,318.93 L594.19,316.18 L599.71,313.34 L605.23,310.40 L610.76,307.38 L616.28,304.27 L621.80,301.08 L627.32,297.81 L632.84,294.45 L638.36,291.01 L643.88,287.50 L649.40,283.89 L654.92,280.16 L660.44,276.29 L665.96,272.25 L671.48,268.01 L677.00,263.55 L677.00,267.55 L671.48,272.15 L665.96,276.53 L660.44,280.72 L654.92,284.73 L649.40,288.60 L643.88,292.35 L638.36,296.01 L632.84,299.58 L627.32,303.08 L621.80,306.50 L616.28,309.83 L610.76,313.08 L605.23,316.24 L599.71,319.32 L594.19,322.30 L588.67,325.20 L583.15,328.00 L577.63,330.70 L572.11,333.31 L566.59,335.82 L561.07,338.23 L555.55,340.51 L550.03,342.68 L544.51,344.76 L538.99,346.75 L533.47,348.65 L527.95,350.46 L522.43,352.19 L516.91,353.84 L511.39,355.41 L505.87,356.92 L500.35,358.35 L494.83,359.73 L489.31,361.04 L483.79,362.29 L478.27,363.49 L472.74,364.65 L467.22,365.75 L461.70,366.81 L456.18,367.84 L450.66,368.82 L445.14,369.78 L439.62,370.71 L434.10,371.61 L428.58,372.49 L423.06,373.35 L417.54,374.20 L412.02,375.04 L406.50,375.88Z" fill="#d0f8d0" fill-opacity="0.85"/>
<path d="M406.50,353.93 L412.02,352.79 L417.54,351.65 L423.06,350.51 L428.58,349.35 L434.10,348.19 L439.62,347.02 L445.14,345.83 L450.66,344.64 L456.18,343.43 L461.70,342.21 L467.22,340.97 L472.74,339.72 L478.27,338.45 L483.79,337.17 L489.31,335.86 L494.83,334.54 L500.35,333.20 L505.87,331.83 L511.39,330.45 L516.91,329.04 L522.43,327.61 L527.95,326.15 L533.47,324.67 L538.99,323.16 L544.51,321.62 L550.03,320.05 L555.55,318.46 L561.07,316.83 L566.59,315.17 L572.11,313.47 L577.63,311.73 L583.15,309.92 L588.67,308.06 L594.19,306.12 L599.71,304.10 L605.23,302.06 L610.76,299.93 L616.28,297.70 L621.80,295.36 L627.32,292.90 L632.84,290.32 L638.36,287.60 L643.88,284.75 L649.40,281.74 L654.92,278.58 L660.44,275.26 L665.96,271.77 L671.48,268.10 L677.00,264.24 L677.00,268.24 L671.48,272.24 L665.96,276.06 L660.44,279.69 L654.92,283.16 L649.40,286.46 L643.88,289.61 L638.36,292.60 L632.84,295.46 L627.32,298.19 L621.80,300.79 L616.28,303.28 L610.76,305.65 L605.23,307.93 L599.71,310.10 L594.19,312.13 L588.67,314.08 L583.15,315.96 L577.63,317.77 L572.11,319.53 L566.59,321.24 L561.07,322.91 L555.55,324.55 L550.03,326.16 L544.51,327.73 L538.99,329.28 L533.47,330.80 L527.95,332.30 L522.43,333.77 L516.91,335.21 L511.39,336.63 L505.87,338.03 L500.35,339.40 L494.83,340.76 L489.31,342.09 L483.79,343.41 L478.27,344.70 L472.74,345.98 L467.22,347.25 L461.70,348.49 L456.18,349.73 L450.66,350.95 L445.14,352.15 L439.62,353.35 L434.10,354.53 L428.58,355.71 L423.06,356.87 L417.54,358.03 L412.02,359.18 L406.50,360.33Z" fill="#ffd0d0" fill-opacity="0.85"/>
<polyline points="406.50,351.22 411.08,350.80 415.67,350.38 420.25,349.95 424.84,349.52 429.42,349.08 434.01,348.62 438.59,348.16 443.18,347.68 447.76,347.19 452.35,346.68 456.93,346.15 461.52,345.60 466.10,345.04 470.69,344.45 475.27,343.84 479.86,343.20 484.44,342.54 489.03,341.85 493.61,341.14 498.19,340.39 502.78,339.61 507.36,338.80 511.95,337.95 516.53,337.07 521.12,336.15 525.70,335.20 530.29,334.20 534.87,333.16 539.46,332.08 544.04,330.96 548.63,329.79 553.21,328.58 557.80,327.31 562.38,326.00 566.97,324.63 571.55,323.21 576.14,321.73 580.72,320.18 585.31,318.57 589.89,316.89 594.47,315.13 599.06,313.29 603.64,311.37 608.23,309.37 612.81,307.27 617.40,305.08 621.98,302.79 626.57,300.40 631.15,297.90 635.74,295.30 640.32,292.58 644.91,289.74 649.49,286.77 654.08,283.66 658.66,280.40 663.25,276.97 667.83,273.35 672.42,269.55 677.00,265.54" fill="none" stroke="#3c3cff" stroke-width="1.0"/>
<polyline points="406.50,371.28 411.08,370.62 415.67,369.96 420.25,369.29 424.84,368.61 429.42,367.92 434.01,367.22 438.59,366.51 443.18,365.78 447.76,365.03 452.35,364.25 456.93,363.46 461.52,362.64 466.10,361.80 470.69,360.92 475.27,360.02 479.86,359.08 484.44,358.10 489.03,357.09 493.61,356.04 498.19,354.95 502.78,353.82 507.36,352.64 511.95,351.41 516.53,350.13 521.12,348.81 525.70,347.42 530.29,345.99 534.87,344.49 539.46,342.94 544.04,341.32 548.63,339.64 553.21,337.89 557.80,336.08 562.38,334.20 566.97,332.24 571.55,330.22 576.14,328.13 580.72,325.97 585.31,323.74 589.89,321.45 594.47,319.10 599.06,316.68 603.64,314.20 608.23,311.66 612.81,309.05 617.40,306.39 621.98,303.68 626.57,300.90 631.15,298.07 635.74,295.18 640.32,292.24 644.91,289.25 649.49,286.18 654.08,283.04 658.66,279.79 663.25,276.43 667.83,272.95 672.42,269.33 677.00,265.55" fill="none" stroke="#33e633" stroke-width="1.0"/>
<polyline points="406.50,357.13 411.08,356.18 415.67,355.23 420.25,354.28 424.84,353.32 429.42,352.35 434.01,351.38 438.59,350.40 443.18,349.42 447.76,348.43 452.35,347.42 456.93,346.41 461.52,345.39 466.10,344.36 470.69,343.32 475.27,342.27 479.86,341.21 484.44,340.13 489.03,339.05 493.61,337.94 498.19,336.83 502.78,335.70 507.36,334.56 511.95,333.40 516.53,332.22 521.12,331.03 525.70,329.82 530.29,328.60 534.87,327.35 539.46,326.09 544.04,324.81 548.63,323.51 553.21,322.19 557.80,320.84 562.38,319.48 566.97,318.09 571.55,316.68 576.14,315.23 580.72,313.74 585.31,312.22 589.89,310.65 594.47,309.02 599.06,307.35 603.64,305.61 608.23,303.81 612.81,301.95 617.40,300.01 621.98,297.99 626.57,295.90 631.15,293.71 635.74,291.44 640.32,289.08 644.91,286.61 649.49,284.05 654.08,281.37 658.66,278.59 663.25,275.69 667.83,272.66 672.42,269.52 677.00,266.24" fill="none" stroke="#ff4444" stroke-width="1.0"/>
<path d="M403.60,341.40V358.40M401.50,341.40H405.70M401.50,358.40H405.70" stroke="#858585" stroke-width="1.4" fill="none"/><path d="M403.60,346.12L407.80,353.42L399.40,353.42Z" fill="#858585"/>
<path d="M455.20,333.50V349.90M453.10,333.50H457.30M453.10,349.90H457.30" stroke="#858585" stroke-width="1.4" fill="none"/><path d="M455.20,338.22L459.40,345.52L451.00,345.52Z" fill="#858585"/>
<path d="M509.60,323.00V342.00M507.50,323.00H511.70M507.50,342.00H511.70" stroke="#858585" stroke-width="1.4" fill="none"/><path d="M509.60,328.12L513.80,335.42L505.40,335.42Z" fill="#858585"/>
<path d="M531.00,319.80V343.10M528.90,319.80H533.10M528.90,343.10H533.10" stroke="#858585" stroke-width="1.4" fill="none"/><circle cx="531.00" cy="330.90" r="2.9" fill="#858585"/>
<path d="M541.80,316.60V341.50M539.70,316.60H543.90M539.70,341.50H543.90" stroke="#858585" stroke-width="1.4" fill="none"/><circle cx="541.80" cy="329.20" r="2.9" fill="#858585"/>
<path d="M552.30,313.90V338.80M550.20,313.90H554.40M550.20,338.80H554.40" stroke="#858585" stroke-width="1.4" fill="none"/><circle cx="552.30" cy="326.30" r="2.9" fill="#858585"/>
<path d="M562.60,329.40V359.30M560.50,329.40H564.70M560.50,359.30H564.70" stroke="#000" stroke-width="1.4" fill="none"/><path d="M562.60,339.92L566.80,347.22L558.40,347.22Z" fill="#000"/>
<path d="M573.30,307.10V334.60M571.20,307.10H575.40M571.20,334.60H575.40" stroke="#858585" stroke-width="1.4" fill="none"/><circle cx="573.30" cy="321.30" r="2.9" fill="#858585"/>
<path d="M584.20,303.80V332.70M582.10,303.80H586.30M582.10,332.70H586.30" stroke="#858585" stroke-width="1.4" fill="none"/><circle cx="584.20" cy="317.70" r="2.9" fill="#858585"/>
<path d="M591.50,320.50V344.00M589.40,320.50H593.60M589.40,344.00H593.60" stroke="#000" stroke-width="1.4" fill="none"/><path d="M591.50,327.92L595.70,335.22L587.30,335.22Z" fill="#000"/>
<path d="M619.70,308.30V327.30M617.60,308.30H621.80M617.60,327.30H621.80" stroke="#000" stroke-width="1.4" fill="none"/><path d="M619.70,313.22L623.90,320.52L615.50,320.52Z" fill="#000"/>
<path d="M638.20,291.90V301.90M636.10,291.90H640.30M636.10,301.90H640.30" stroke="#000" stroke-width="1.4" fill="none"/><circle cx="638.20" cy="296.60" r="2.9" fill="#000"/>
<path d="M648.00,291.50V308.20M645.90,291.50H650.10M645.90,308.20H650.10" stroke="#000" stroke-width="1.4" fill="none"/><path d="M648.00,296.12L652.20,303.42L643.80,303.42Z" fill="#000"/>
<path d="M654.00,273.70V284.50M651.90,273.70H656.10M651.90,284.50H656.10" stroke="#000" stroke-width="1.4" fill="none"/><path d="M654.00,282.84L657.80,276.44L650.20,276.44Z" fill="none" stroke="#1a1a1a" stroke-width="1.05"/>
<path d="M654.00,280.00V288.50M651.90,280.00H656.10M651.90,288.50H656.10" stroke="#000" stroke-width="1.4" fill="none"/><circle cx="654.00" cy="284.50" r="2.9" fill="#000"/>
<path d="M663.00,267.70V279.30M660.90,267.70H665.10M660.90,279.30H665.10" stroke="#000" stroke-width="1.4" fill="none"/><path d="M663.00,277.04L666.80,270.64L659.20,270.64Z" fill="none" stroke="#1a1a1a" stroke-width="1.05"/>
<path d="M670.40,264.60V270.30M668.30,264.60H672.50M668.30,270.30H672.50" stroke="#000" stroke-width="1.4" fill="none"/><circle cx="670.40" cy="267.40" r="2.9" fill="#000"/>
<path d="M671.70,265.00V272.50M669.60,265.00H673.80M669.60,272.50H673.80" stroke="#000" stroke-width="1.4" fill="none"/><path d="M671.70,272.54L675.50,266.14L667.90,266.14Z" fill="none" stroke="#1a1a1a" stroke-width="1.05"/>
<path d="M677.20,268.70V287.20M675.10,268.70H679.30M675.10,287.20H679.30" stroke="#000" stroke-width="1.4" fill="none"/><path d="M677.20,274.42L681.40,281.72L673.00,281.72Z" fill="#000"/>
</g>
<path d="M398.5,233.0H684.5V396.5H398.5Z" fill="none" stroke="#000" stroke-width="1"/>
<path d="M403.60,396.5v-3.1M403.60,233.0v3.1M414.24,396.5v-2.0M414.24,233.0v2.0M424.88,396.5v-2.0M424.88,233.0v2.0M435.52,396.5v-2.0M435.52,233.0v2.0M446.16,396.5v-2.0M446.16,233.0v2.0M456.80,396.5v-3.1M456.80,233.0v3.1M467.44,396.5v-2.0M467.44,233.0v2.0M478.08,396.5v-2.0M478.08,233.0v2.0M488.72,396.5v-2.0M488.72,233.0v2.0M499.36,396.5v-2.0M499.36,233.0v2.0M510.00,396.5v-3.1M510.00,233.0v3.1M520.64,396.5v-2.0M520.64,233.0v2.0M531.28,396.5v-2.0M531.28,233.0v2.0M541.92,396.5v-2.0M541.92,233.0v2.0M552.56,396.5v-2.0M552.56,233.0v2.0M563.20,396.5v-3.1M563.20,233.0v3.1M573.84,396.5v-2.0M573.84,233.0v2.0M584.48,396.5v-2.0M584.48,233.0v2.0M595.12,396.5v-2.0M595.12,233.0v2.0M605.76,396.5v-2.0M605.76,233.0v2.0M616.40,396.5v-3.1M616.40,233.0v3.1M627.04,396.5v-2.0M627.04,233.0v2.0M637.68,396.5v-2.0M637.68,233.0v2.0M648.32,396.5v-2.0M648.32,233.0v2.0M658.96,396.5v-2.0M658.96,233.0v2.0M669.60,396.5v-3.1M669.60,233.0v3.1M680.24,396.5v-2.0M680.24,233.0v2.0M398.5,396.50h3.4M684.5,396.50h-3.4M398.5,390.68h2.1M684.5,390.68h-2.1M398.5,384.86h2.1M684.5,384.86h-2.1M398.5,379.04h2.1M684.5,379.04h-2.1M398.5,373.22h3.4M684.5,373.22h-3.4M398.5,367.40h2.1M684.5,367.40h-2.1M398.5,361.58h2.1M684.5,361.58h-2.1M398.5,355.76h2.1M684.5,355.76h-2.1M398.5,349.94h3.4M684.5,349.94h-3.4M398.5,344.12h2.1M684.5,344.12h-2.1M398.5,338.30h2.1M684.5,338.30h-2.1M398.5,332.48h2.1M684.5,332.48h-2.1M398.5,326.66h3.4M684.5,326.66h-3.4M398.5,320.84h2.1M684.5,320.84h-2.1M398.5,315.02h2.1M684.5,315.02h-2.1M398.5,309.20h2.1M684.5,309.20h-2.1M398.5,303.38h3.4M684.5,303.38h-3.4M398.5,297.56h2.1M684.5,297.56h-2.1M398.5,291.74h2.1M684.5,291.74h-2.1M398.5,285.92h2.1M684.5,285.92h-2.1M398.5,280.10h3.4M684.5,280.10h-3.4M398.5,274.28h2.1M684.5,274.28h-2.1M398.5,268.46h2.1M684.5,268.46h-2.1M398.5,262.64h2.1M684.5,262.64h-2.1M398.5,256.82h3.4M684.5,256.82h-3.4M398.5,251.00h2.1M684.5,251.00h-2.1M398.5,245.18h2.1M684.5,245.18h-2.1M398.5,239.36h2.1M684.5,239.36h-2.1M398.5,233.54h3.4M684.5,233.54h-3.4" stroke="#111" stroke-width="0.95" fill="none"/>
<text x="395.2" y="402.0" class="tl" text-anchor="end">0.0</text>
<text x="395.2" y="378.7" class="tl" text-anchor="end">0.2</text>
<text x="395.2" y="355.4" class="tl" text-anchor="end">0.4</text>
<text x="395.2" y="332.2" class="tl" text-anchor="end">0.6</text>
<text x="395.2" y="308.9" class="tl" text-anchor="end">0.8</text>
<text x="395.2" y="285.6" class="tl" text-anchor="end">1.0</text>
<text x="395.2" y="262.3" class="tl" text-anchor="end">1.2</text>
<text x="395.2" y="239.0" class="tl" text-anchor="end">1.4</text>
<path d="M389.90,409.20h9.2" stroke="#000" stroke-width="1.0"/>
<text x="401.5" y="413.5" class="tl">15</text>
<path d="M443.10,409.20h9.2" stroke="#000" stroke-width="1.0"/>
<text x="454.7" y="413.5" class="tl">10</text>
<path d="M500.50,409.20h9.2" stroke="#000" stroke-width="1.0"/>
<text x="512.1" y="413.5" class="tl">5</text>
<text x="563.2" y="413.5" class="tl" text-anchor="middle">0</text>
<text x="616.4" y="413.5" class="tl" text-anchor="middle">5</text>
<text x="669.6" y="413.5" class="tl" text-anchor="middle">10</text>
<text x="507.9" y="436.6" class="xl" font-style="italic" style="font-size:17px">q</text>
<text x="517.6" y="430.3" class="xs" style="font-size:12px">2</text>
<text transform="translate(523.8,438.9) scale(1,1.4)" class="xl">(</text>
<text x="529.4" y="437.2" class="xl" style="font-size:16.8px">GeV</text>
<text x="561.1" y="430.3" class="xs" style="font-size:12px">2</text>
<text transform="translate(568.8,438.9) scale(1,1.4)" class="xl">)</text>
<text transform="translate(363.6,323.6) rotate(-90) skewX(-12)" class="yl"><tspan font-style="italic">A</tspan></text>
<text transform="translate(366.20000000000005,313.1) rotate(-90)" class="yl" style="font-size:11.5px">0</text>
<line x1="56" y1="14.4" x2="74.5" y2="14.4" stroke="#ff4444" stroke-opacity="0.6" stroke-width="1.2"/>
<text x="80.3" y="18.6" class="lg">CLN</text>
<line x1="56" y1="33.3" x2="74.5" y2="33.3" stroke="#3c3cff" stroke-opacity="0.6" stroke-width="1.2"/>
<text x="80.3" y="37.5" class="lg">BGL</text>
<line x1="56" y1="51.9" x2="74.5" y2="51.9" stroke="#33e633" stroke-opacity="0.6" stroke-width="1.2"/>
<text x="80.3" y="56.1" class="lg">HQET2/1/0</text>
<circle cx="69" cy="71.2" r="3" fill="#858585"/>
<text x="80.3" y="75.4" class="lg">LCSR1</text>
<path d="M69,86.2L73.4,94L64.6,94Z" fill="#858585"/>
<text x="80.3" y="94.2" class="lg">LCSR2</text>
<circle cx="163.5" cy="12.9" r="2.9" fill="#000"/>
<text x="174.9" y="17.1" class="lg">FNAL/MILC</text>
<path d="M164.7,26.3L169,33.6L160.4,33.6Z" fill="#000"/>
<text x="176.3" y="34.2" class="lg">HPQCD</text>
<path d="M165,50.3L169.2,43.2L160.8,43.2Z" fill="#fff" stroke="#aaa" stroke-width="1"/>
<text x="176.3" y="51.1" class="lg">JLQCD</text>
</svg>
</body></html>
